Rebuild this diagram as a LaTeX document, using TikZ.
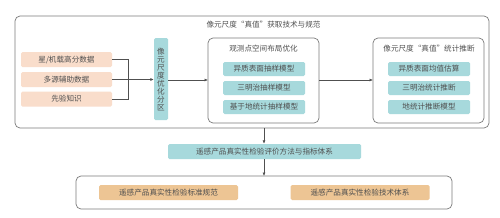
\documentclass[tikz,border=0pt]{standalone}
\usepackage{fontspec}
\setmainfont{Noto Sans CJK SC}
\usetikzlibrary{arrows.meta}
\definecolor{peach}{HTML}{F9DDCB}
\definecolor{teal1}{HTML}{A7D9DC}
\definecolor{orng}{HTML}{EDC594}
\definecolor{txt}{HTML}{505050}
\definecolor{frame}{HTML}{7A7A7A}
\begin{document}
\begin{tikzpicture}[x=1pt,y=-1pt,
  every node/.style={font=\fontsize{7.6}{8}\selectfont, text=txt, inner sep=0pt},
  fbox/.style={draw=frame, line width=0.7pt, rounded corners=5pt},
  pbox/.style={fill=peach, rounded corners=1.5pt, minimum width=91pt, minimum height=15pt},
  tbox/.style={fill=teal1, rounded corners=1.5pt, minimum width=82pt, minimum height=14pt},
  obox/.style={fill=orng, rounded corners=1.5pt, minimum width=139pt, minimum height=15pt},
  conn/.style={draw=txt, line width=0.6pt},
  arr/.style={conn, -{Latex[length=3.5pt,width=3pt]}}
]
\useasboundingbox (0,0) rectangle (500,217);
\fill[white] (0,0) rectangle (500,217);
% outer frame
\draw[fbox] (15,16) rectangle (489,128);
\node (title) at (263.5,25) {像元尺度“真值”获取技术与规范};
% left inputs
\node[pbox] (in1) at (66.5,59.5) {星/机载高分数据};
\node[pbox] (in2) at (66.5,79.5) {多源辅助数据};
\node[pbox] (in3) at (66.5,99) {先验知识};
\coordinate (j1) at (128,59.5);
\coordinate (j3) at (128,99);
% vertical partition box
\node[fill=teal1, rounded corners=1.5pt, minimum width=14pt, minimum height=82pt, align=center] (part) at (161,79) {像\\元\\尺\\度\\优\\化\\分\\区};
\draw[conn] (in1.east) -- (j1) -- (j3) -- (in3.east);
\draw[arr] (in2.east) -- (in2.east -| part.west);
% middle box
\draw[fbox] (208,38) rectangle (319,123);
\coordinate (midL) at (208,80);
\coordinate (midR) at (319,80);
\node (mtitle) at (263.5,49) {观测点空间布局优化};
\node[tbox] (m1) at (264,69) {异质表面抽样模型};
\node[tbox] (m2) at (264,88) {三明治抽样模型};
\node[tbox] (m3) at (264,107) {基于地统计抽样模型};
% right box
\draw[fbox] (373,38) rectangle (484,123);
\coordinate (rgtL) at (373,80);
\node (rtitle) at (429,49) {像元尺度“真值”统计推断};
\node[tbox] (r1) at (429,69) {异质表面均值估算};
\node[tbox] (r2) at (429,88) {三明治统计推断};
\node[tbox] (r3) at (429,107) {地统计推断模型};
\draw[arr] (part.east |- midL) -- (midL);
\draw[arr] (midR) -- (rgtL);
% evaluation bar
\coordinate (outB) at (264,128);
\node[fill=teal1, rounded corners=1.5pt, minimum width=193pt, minimum height=15pt] (eval) at (264.5,151.5) {遥感产品真实性检验评价方法与指标体系};
\draw[arr] (outB) -- (eval.north -| outB);
% bottom box
\draw[fbox] (76,176) rectangle (452,209);
\coordinate (botT) at (264,176);
\draw[arr] (eval.south -| botT) -- (botT);
\node[obox] (b1) at (168.5,192.5) {遥感产品真实性检验标准规范};
\node[obox] (b2) at (360,192.5) {遥感产品真实性检验技术体系};
\end{tikzpicture}
\end{document}
